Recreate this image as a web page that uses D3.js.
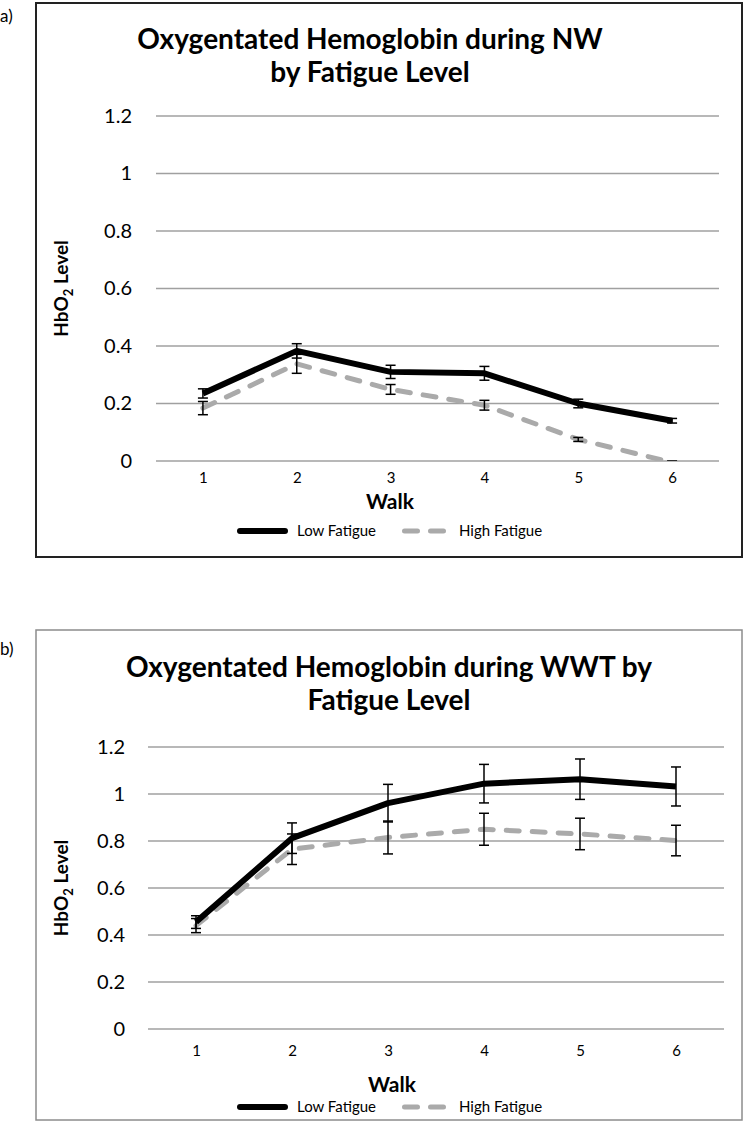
<!DOCTYPE html>
<html>
<head>
<meta charset="utf-8">
<script src="https://cdn.jsdelivr.net/npm/d3@7"></script>
<style>
  html, body { margin: 0; padding: 0; background: #fff; }
  svg { display: block; }
  text { font-family: Lato, "Open Sans", sans-serif; fill: #000; }
</style>
</head>
<body>
<svg id="chart" width="744" height="1124"></svg>
<script>
// ---------- data ----------
const walks = ["1", "2", "3", "4", "5", "6"];
const yTickValues = [0, 0.2, 0.4, 0.6, 0.8, 1, 1.2];
const seriesNames = ["Low Fatigue", "High Fatigue"];

const nwTitle = ["Oxygentated Hemoglobin during NW", "by Fatigue Level"];
const nwLow = [0.235, 0.383, 0.31, 0.305, 0.2, 0.14];
const nwLowErr = [0.016, 0.025, 0.023, 0.024, 0.015, 0.008];
const nwHigh = [0.184, 0.338, 0.249, 0.194, 0.075, -0.005];
const nwHighErr = [0.023, 0.033, 0.017, 0.017, 0.007, 0.005];

const wwtTitle = ["Oxygentated Hemoglobin during WWT by", "Fatigue Level"];
const wwtLow = [0.455, 0.812, 0.961, 1.044, 1.063, 1.032];
const wwtLowErr = [0.027, 0.065, 0.08, 0.082, 0.086, 0.083];
const wwtHigh = [0.44, 0.765, 0.815, 0.85, 0.83, 0.802];
const wwtHighErr = [0.03, 0.065, 0.07, 0.068, 0.067, 0.065];

// ---------- drawing ----------
const svg = d3.select("#chart");
const fmt = d => (d === 0 ? "0" : d === 1 ? "1" : d3.format(".1f")(d));

function panel(cfg) {
  const g = svg.append("g");

  // panel label
  g.append("text").attr("x", 0).attr("y", cfg.labelY)
    .style("font-size", "17px").text(cfg.label);

  // border
  g.append("rect")
    .attr("x", cfg.box[0]).attr("y", cfg.box[1])
    .attr("width", cfg.box[2]).attr("height", cfg.box[3])
    .attr("fill", "none").attr("stroke", cfg.borderColor)
    .attr("stroke-width", cfg.borderWidth);

  // title
  cfg.title.forEach((t, i) => {
    g.append("text").attr("x", cfg.titleX).attr("y", cfg.titleY + i * 33)
      .attr("text-anchor", "middle")
      .style("font-size", "28px").style("font-weight", "bold").text(t);
  });

  const x = d3.scalePoint().domain(walks).range(cfg.xRange).padding(0.5);
  const y = d3.scaleLinear().domain([0, 1.2]).range(cfg.yRange);

  // gridlines
  g.append("g").selectAll("line").data(yTickValues).join("line")
    .attr("x1", cfg.xRange[0]).attr("x2", cfg.xRange[1])
    .attr("y1", d => y(d)).attr("y2", d => y(d))
    .attr("stroke", "#a0a0a0").attr("stroke-width", 1.5);

  // y axis labels
  const yAxis = d3.axisLeft(y).tickValues(yTickValues).tickFormat(fmt).tickSize(0).tickPadding(0);
  const ya = g.append("g").attr("transform", `translate(${cfg.yLabelX},0)`).call(yAxis);
  ya.select(".domain").remove();
  ya.selectAll("text").style("font-size", "20px").style("font-family", "Lato, sans-serif").attr("fill", "#000");

  // x axis labels
  const xAxis = d3.axisBottom(x).tickSize(0).tickPadding(0);
  const xa = g.append("g").attr("transform", `translate(0,${cfg.xLabelY})`).call(xAxis);
  xa.select(".domain").remove();
  xa.selectAll("text").style("font-size", "15px").style("font-family", "Lato, sans-serif").attr("fill", "#000");

  // axis titles
  const yt = g.append("text")
    .attr("transform", `translate(${cfg.yTitleX},${(cfg.yRange[0] + cfg.yRange[1]) / 2}) rotate(-90)`)
    .attr("text-anchor", "middle").style("font-size", "19px").style("font-weight", "bold");
  yt.append("tspan").text("HbO");
  yt.append("tspan").attr("dy", 5).style("font-size", "13px").text("2");
  yt.append("tspan").attr("dy", -5).text(" Level");

  g.append("text").attr("x", cfg.walkX).attr("y", cfg.walkY)
    .attr("text-anchor", "middle").style("font-size", "21px").style("font-weight", "bold").text("Walk");

  // clip
  const clipId = "clip" + cfg.label.replace(")", "");
  svg.append("clipPath").attr("id", clipId).append("rect")
    .attr("x", cfg.xRange[0]).attr("y", cfg.yRange[1] - 40)
    .attr("width", cfg.xRange[1] - cfg.xRange[0]).attr("height", cfg.yRange[0] - cfg.yRange[1] + 40);
  const plot = g.append("g").attr("clip-path", `url(#${clipId})`);

  const line = d3.line().x((d, i) => x(walks[i])).y(d => y(d));
  const styles = [
    { color: "#000", width: 6, dash: null },
    { color: "#aaaaaa", width: 5, dash: "13,13" }
  ];

  // high series line first (drawn under)
  [[cfg.high, styles[1]], [cfg.low, styles[0]]].forEach(([vals, st]) => {
    plot.append("path").datum(vals).attr("d", line)
      .attr("fill", "none").attr("stroke", st.color).attr("stroke-width", st.width)
      .attr("stroke-linecap", st.dash ? "round" : "butt")
      .attr("stroke-linejoin", "round")
      .attr("stroke-dasharray", st.dash);
  });

  // error bars
  const eb = [];
  cfg.low.forEach((v, i) => eb.push({ i, v, e: cfg.lowErr[i] }));
  cfg.high.forEach((v, i) => eb.push({ i, v, e: cfg.highErr[i] }));
  const ebg = plot.append("g").attr("stroke", "#000").attr("stroke-width", 1.5);
  eb.forEach(d => {
    const cx = x(walks[d.i]);
    const y1 = y(d.v + d.e), y2 = y(d.v - d.e);
    ebg.append("line").attr("x1", cx).attr("x2", cx).attr("y1", y1).attr("y2", y2);
    ebg.append("line").attr("x1", cx - 5).attr("x2", cx + 5).attr("y1", y1).attr("y2", y1);
    ebg.append("line").attr("x1", cx - 5).attr("x2", cx + 5).attr("y1", y2).attr("y2", y2);
  });

  // legend
  const lg = g.append("g").attr("transform", `translate(0,${cfg.legendY})`);
  lg.append("line").attr("x1", 240).attr("x2", 285).attr("y1", 0).attr("y2", 0)
    .attr("stroke", "#000").attr("stroke-width", 6).attr("stroke-linecap", "round");
  lg.append("text").attr("x", 297).attr("y", 5).style("font-size", "15px").text(seriesNames[0]);
  lg.append("line").attr("x1", 404.5).attr("x2", 443.5).attr("y1", 0).attr("y2", 0)
    .attr("stroke", "#aaaaaa").attr("stroke-width", 5).attr("stroke-linecap", "round")
    .attr("stroke-dasharray", "13,13");
  lg.append("text").attr("x", 459).attr("y", 5).style("font-size", "15px").text(seriesNames[1]);
}

panel({
  label: "a)", labelY: 22,
  box: [36, 3, 706, 554], borderColor: "#222", borderWidth: 2,
  title: nwTitle, titleX: 370, titleY: 49,
  xRange: [156, 719], yRange: [461, 116],
  yLabelX: 132, xLabelY: 472, yTitleX: 68,
  walkX: 390, walkY: 509, legendY: 531,
  low: nwLow, lowErr: nwLowErr, high: nwHigh, highErr: nwHighErr
});

panel({
  label: "b)", labelY: 655,
  box: [36, 630, 706, 490], borderColor: "#8c8c8c", borderWidth: 1.5,
  title: wwtTitle, titleX: 389, titleY: 677,
  xRange: [148, 724], yRange: [1029, 747],
  yLabelX: 125, xLabelY: 1045, yTitleX: 68,
  walkX: 392, walkY: 1092, legendY: 1107,
  low: wwtLow, lowErr: wwtLowErr, high: wwtHigh, highErr: wwtHighErr
});
</script>
</body>
</html>
